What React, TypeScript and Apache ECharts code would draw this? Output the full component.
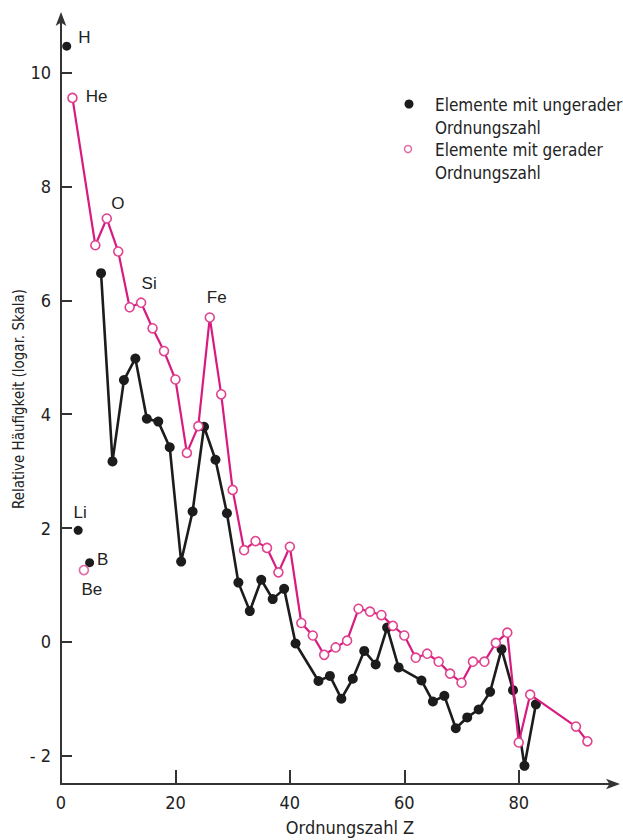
import React, { useEffect, useRef } from "react";
import * as echarts from "echarts";

// Odd atomic numbers (connected line, from N onward)
const oddZ = [7, 9, 11, 13, 15, 17, 19, 21, 23, 25, 27, 29, 31, 33, 35, 37, 39, 41, 45, 47, 49, 51, 53, 55, 57, 59, 63, 65, 67, 69, 71, 73, 75, 77, 79, 81, 83];
const oddVal = [6.48, 3.17, 4.6, 4.98, 3.92, 3.87, 3.42, 1.41, 2.29, 3.78, 3.2, 2.26, 1.04, 0.54, 1.09, 0.75, 0.93, -0.03, -0.69, -0.6, -1.0, -0.65, -0.16, -0.4, 0.25, -0.45, -0.68, -1.05, -0.95, -1.52, -1.33, -1.19, -0.88, -0.13, -0.85, -2.18, -1.1];
// Odd isolated points
const oddIsoZ = [1, 3, 5];
const oddIsoVal = [10.47, 1.96, 1.39];
const oddIsoName = ["H", "Li", "B"];

// Even atomic numbers (connected line, from He onward)
const evenZ = [2, 6, 8, 10, 12, 14, 16, 18, 20, 22, 24, 26, 28, 30, 32, 34, 36, 38, 40, 42, 44, 46, 48, 50, 52, 54, 56, 58, 60, 62, 64, 66, 68, 70, 72, 74, 76, 78, 80, 82, 90, 92];
const evenVal = [9.56, 6.97, 7.44, 6.86, 5.88, 5.96, 5.51, 5.11, 4.61, 3.32, 3.79, 5.7, 4.35, 2.67, 1.61, 1.77, 1.65, 1.22, 1.67, 0.33, 0.11, -0.23, -0.1, 0.02, 0.58, 0.53, 0.47, 0.28, 0.11, -0.28, -0.21, -0.35, -0.56, -0.72, -0.35, -0.35, -0.02, 0.16, -1.77, -0.93, -1.49, -1.75];
const evenIsoZ = [4];
const evenIsoVal = [1.26];
const evenIsoName = ["Be"];

// Labelled elements on the even line
const evenLabelZ = [2, 8, 14, 26];
const evenLabelName = ["He", "O", "Si", "Fe"];

const xTickLabels = [0, 20, 40, 60, 80];
const xTicks = [20, 40, 60, 80];
const yTickLabels = [-2, 0, 2, 4, 6, 8, 10];

const seriesOdd = "Elemente mit ungerader Ordnungszahl";
const seriesEven = "Elemente mit gerader Ordnungszahl";

const FONT = "'DejaVu Sans Condensed', 'Liberation Sans Narrow', 'Roboto Condensed', 'DejaVu Sans', sans-serif";
const LFONT = "'Liberation Sans', Arial, sans-serif";
const BLACK = "#1c1c1c";
const PINK = "#d81b80";

const labelPlacement: Record<string, { position: string; offset: number[] }> = {
  H: { position: "right", offset: [2, -9] },
  Li: { position: "top", offset: [2, 0] },
  B: { position: "right", offset: [-2, -3] },
  Be: { position: "bottom", offset: [8, 1] },
  He: { position: "right", offset: [3, -1] },
  O: { position: "top", offset: [11, 4] },
  Si: { position: "top", offset: [8, 0] },
  Fe: { position: "top", offset: [7, -1] },
};

function labelFor(name: string) {
  const p = labelPlacement[name];
  return {
    show: true,
    formatter: name,
    position: p.position,
    offset: p.offset,
    distance: 5,
    color: "#222",
    fontFamily: LFONT,
    fontSize: 17,
  };
}

export default function App() {
  const ref = useRef<HTMLDivElement>(null);
  useEffect(() => {
    if (!ref.current) return;
    const chart = echarts.init(ref.current, undefined, { renderer: "svg" });

    const oddData = oddZ.map((z, i) => [z, oddVal[i]]);
    const oddIso = oddIsoZ.map((z, i) => ({ value: [z, oddIsoVal[i]], label: labelFor(oddIsoName[i]) }));
    const evenData = evenZ.map((z, i) => {
      const li = evenLabelZ.indexOf(z);
      if (li >= 0) return { value: [z, evenVal[i]], label: labelFor(evenLabelName[li]) };
      return { value: [z, evenVal[i]] };
    });
    const evenIso = evenIsoZ.map((z, i) => ({ value: [z, evenIsoVal[i]], label: labelFor(evenIsoName[i]) }));

    const axisLine = { show: true, onZero: false, lineStyle: { color: "#333", width: 2 } };

    chart.setOption({
      animation: false,
      backgroundColor: "#ffffff",
      grid: { left: 61, right: 7, top: 16, bottom: 56, containLabel: false },
      xAxis: {
        type: "value",
        min: 0,
        max: 97,
        axisLine: { ...axisLine, symbol: ["none", "arrow"], symbolSize: [8, 14], symbolOffset: [0, 4] },
        axisTick: { show: true, inside: true, length: 14, customValues: xTicks, lineStyle: { color: "#333", width: 2 } },
        axisLabel: {
          customValues: xTickLabels,
          margin: 9,
          color: "#222",
          fontFamily: FONT,
          fontSize: 18,
        },
        splitLine: { show: false },
      },
      yAxis: {
        type: "value",
        min: -2.5,
        max: 11,
        axisLine: { ...axisLine, symbol: ["none", "arrow"], symbolSize: [8, 14], symbolOffset: [0, 4] },
        axisTick: { show: true, inside: true, length: 11, customValues: yTickLabels, lineStyle: { color: "#333", width: 2 } },
        axisLabel: {
          customValues: yTickLabels,
          margin: 10,
          color: "#222",
          fontFamily: FONT,
          fontSize: 18,
          formatter: (v: number) => (v < 0 ? "- " + Math.abs(v) : String(v)),
        },
        splitLine: { show: false },
      },
      series: [
        {
          name: seriesOdd,
          type: "line",
          data: oddData,
          symbol: "circle",
          symbolSize: 10,
          lineStyle: { color: BLACK, width: 2.6 },
          itemStyle: { color: BLACK, opacity: 1 },
          label: { show: false },
          z: 2,
        },
        {
          name: seriesOdd,
          type: "scatter",
          data: oddIso,
          symbol: "circle",
          symbolSize: 9,
          itemStyle: { color: BLACK, opacity: 1 },
          z: 2,
        },
        {
          name: seriesEven,
          type: "line",
          data: evenData,
          symbol: "circle",
          symbolSize: 9,
          lineStyle: { color: PINK, width: 2.2 },
          itemStyle: { color: "#ffffff", borderColor: "#e0428f", borderWidth: 1.6, opacity: 1 },
          label: { show: false },
          z: 3,
        },
        {
          name: seriesEven,
          type: "scatter",
          data: evenIso,
          symbol: "circle",
          symbolSize: 9,
          itemStyle: { color: "#ffffff", borderColor: "#e06aa5", borderWidth: 1.6, opacity: 1 },
          z: 3,
        },
      ],
      graphic: [
        {
          type: "text",
          x: 19,
          y: 399,
          rotation: Math.PI / 2,
          style: {
            text: "Relative Häufigkeit (logar. Skala)",
            fontFamily: FONT,
            fontSize: 15,
            fill: "#222",
            textAlign: "center",
            textVerticalAlign: "middle",
          },
        },
        {
          type: "text",
          x: 350,
          y: 827,
          style: {
            text: "Ordnungszahl Z",
            fontFamily: FONT,
            fontSize: 18,
            fill: "#222",
            textAlign: "center",
            textVerticalAlign: "middle",
          },
        },
        { type: "circle", shape: { cx: 409, cy: 104, r: 4.5 }, style: { fill: BLACK } },
        {
          type: "text",
          x: 435,
          y: 93,
          style: {
            text: "Elemente mit ungerader\nOrdnungszahl",
            fontFamily: FONT,
            fontSize: 17,
            lineHeight: 23,
            fill: "#222",
            textAlign: "left",
            textVerticalAlign: "top",
          },
        },
        { type: "circle", shape: { cx: 408, cy: 149, r: 3.5 }, style: { fill: "#fff", stroke: "#e06aa5", lineWidth: 1.5 } },
        {
          type: "text",
          x: 435,
          y: 138,
          style: {
            text: "Elemente mit gerader\nOrdnungszahl",
            fontFamily: FONT,
            fontSize: 17,
            lineHeight: 23,
            fill: "#222",
            textAlign: "left",
            textVerticalAlign: "top",
          },
        },
      ],
    });
    return () => chart.dispose();
  }, []);
  return <div ref={ref} style={{ position: "fixed", left: 0, top: 0, width: 623, height: 840 }} />;
}
